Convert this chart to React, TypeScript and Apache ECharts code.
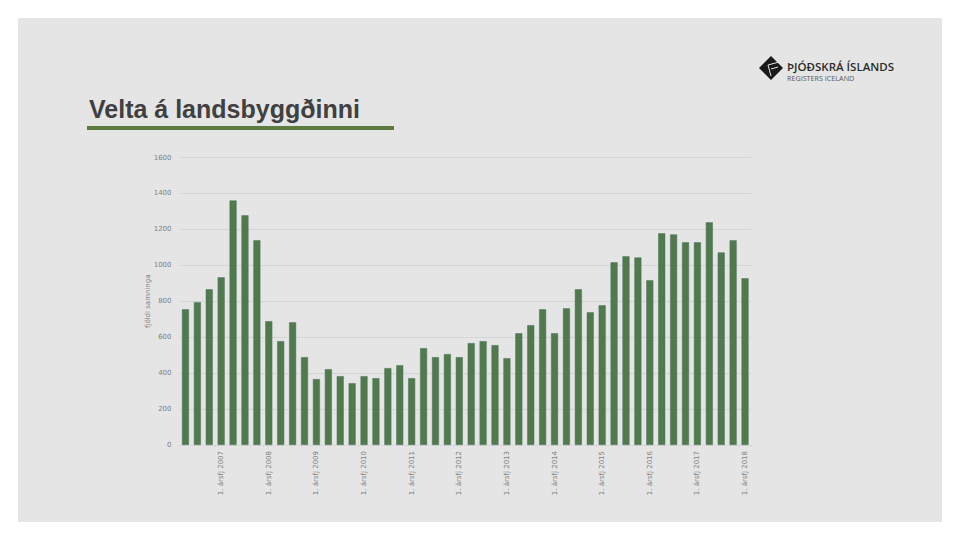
import { useEffect, useRef } from "react";
import * as echarts from "echarts";

const QUARTERS = [
  "2. ársfj 2006", "3. ársfj 2006", "4. ársfj 2006", "1. ársfj 2007",
  "2. ársfj 2007", "3. ársfj 2007", "4. ársfj 2007", "1. ársfj 2008",
  "2. ársfj 2008", "3. ársfj 2008", "4. ársfj 2008", "1. ársfj 2009",
  "2. ársfj 2009", "3. ársfj 2009", "4. ársfj 2009", "1. ársfj 2010",
  "2. ársfj 2010", "3. ársfj 2010", "4. ársfj 2010", "1. ársfj 2011",
  "2. ársfj 2011", "3. ársfj 2011", "4. ársfj 2011", "1. ársfj 2012",
  "2. ársfj 2012", "3. ársfj 2012", "4. ársfj 2012", "1. ársfj 2013",
  "2. ársfj 2013", "3. ársfj 2013", "4. ársfj 2013", "1. ársfj 2014",
  "2. ársfj 2014", "3. ársfj 2014", "4. ársfj 2014", "1. ársfj 2015",
  "2. ársfj 2015", "3. ársfj 2015", "4. ársfj 2015", "1. ársfj 2016",
  "2. ársfj 2016", "3. ársfj 2016", "4. ársfj 2016", "1. ársfj 2017",
  "2. ársfj 2017", "3. ársfj 2017", "4. ársfj 2017", "1. ársfj 2018",
];

const CONTRACTS = [
  755, 795, 867, 933, 1361, 1278, 1139, 689,
  578, 683, 489, 367, 422, 383, 344, 383,
  372, 428, 444, 372, 539, 489, 506, 489,
  567, 578, 556, 483, 622, 667, 755, 622,
  761, 867, 739, 778, 1017, 1050, 1044, 917,
  1178, 1172, 1128, 1128, 1239, 1072, 1139, 928,
];

const LOGO_PATH = "M12 0 L24 12 L12 24 L0 12 Z";
echarts.graphic.registerShape("logoMark", echarts.graphic.extendPath(LOGO_PATH as any, {}) as any);

export default function App() {
  const chartRef = useRef<HTMLDivElement>(null);

  useEffect(() => {
    document.body.style.margin = "0";
    if (!chartRef.current) return;
    const chart = echarts.init(chartRef.current, null, { renderer: "svg" });

    chart.setOption({
      animation: false,
      backgroundColor: "#ffffff",
      grid: { left: 179.5, right: 209, top: 157.5, bottom: 95 },
      xAxis: {
        type: "category",
        data: QUARTERS,
        axisLine: { lineStyle: { color: "#d9d9d9", width: 1 } },
        axisTick: { show: true, length: 2, lineStyle: { color: "#d9d0d0" } },
        axisLabel: {
          interval: (i: number) => i % 4 === 3,
          rotate: 90,
          color: "#7f7f7f",
          fontFamily: "DejaVu Sans",
          fontSize: 7,
          margin: 6,
        },
      },
      yAxis: {
        type: "value",
        min: 0,
        max: 1600,
        interval: 200,
        name: "fjöldi samninga",
        nameLocation: "middle",
        nameGap: 28,
        nameMoveOverlap: false,
        nameTextStyle: { color: "#7f7f7f", fontFamily: "DejaVu Sans", fontSize: 7 },
        axisLine: { show: false },
        axisTick: { show: false },
        axisLabel: {
          color: "#7f7f7f",
          fontFamily: "DejaVu Sans",
          fontSize: 7,
          margin: 8,
          formatter: (v: number) => String(v),
        },
        splitLine: { lineStyle: { color: "#d4d4d4", width: 1 } },
      },
      series: [
        {
          type: "bar",
          data: CONTRACTS,
          barCategoryGap: "41%",
          itemStyle: { color: "#507a4c", borderColor: "#4f7565", borderWidth: 0.5 },
        },
      ],
      graphic: [
        { type: "rect", z: -10, shape: { x: 18, y: 18, width: 924, height: 504 }, style: { fill: "#e5e5e5" } },
        {
          type: "text",
          x: 89,
          y: 96,
          style: {
            text: "Velta á landsbyggðinni",
            fill: "#404040",
            font: "bold 25px 'Liberation Sans'",
          },
        },
        { type: "rect", shape: { x: 87, y: 126, width: 307, height: 4 }, style: { fill: "#5c7d3f" } },
        { type: "logoMark", x: 759, y: 56, scaleX: 1, scaleY: 1, style: { fill: "#1a1a1a" } },
        { type: "line", shape: { x1: 768, y1: 65, x2: 779, y2: 62 }, style: { stroke: "#e5e5e5", lineWidth: 1 } },
        { type: "line", shape: { x1: 768, y1: 65, x2: 771, y2: 76 }, style: { stroke: "#e5e5e5", lineWidth: 1 } },
        { type: "line", shape: { x1: 771, y1: 69, x2: 778, y2: 67 }, style: { stroke: "#e5e5e5", lineWidth: 1 } },
        {
          type: "text",
          x: 787,
          y: 60,
          style: { text: "ÞJÓÐSKRÁ ÍSLANDS", fill: "#2b2b2b", font: "600 11.5px 'Open Sans'" },
        },
        {
          type: "text",
          x: 787,
          y: 74,
          style: { text: "REGISTERS ICELAND", fill: "#5a5a5a", font: "7.2px 'Open Sans'" },
        },
      ],
    });

    return () => {
      chart.dispose();
    };
  }, []);

  return <div ref={chartRef} style={{ width: 960, height: 540 }} />;
}
